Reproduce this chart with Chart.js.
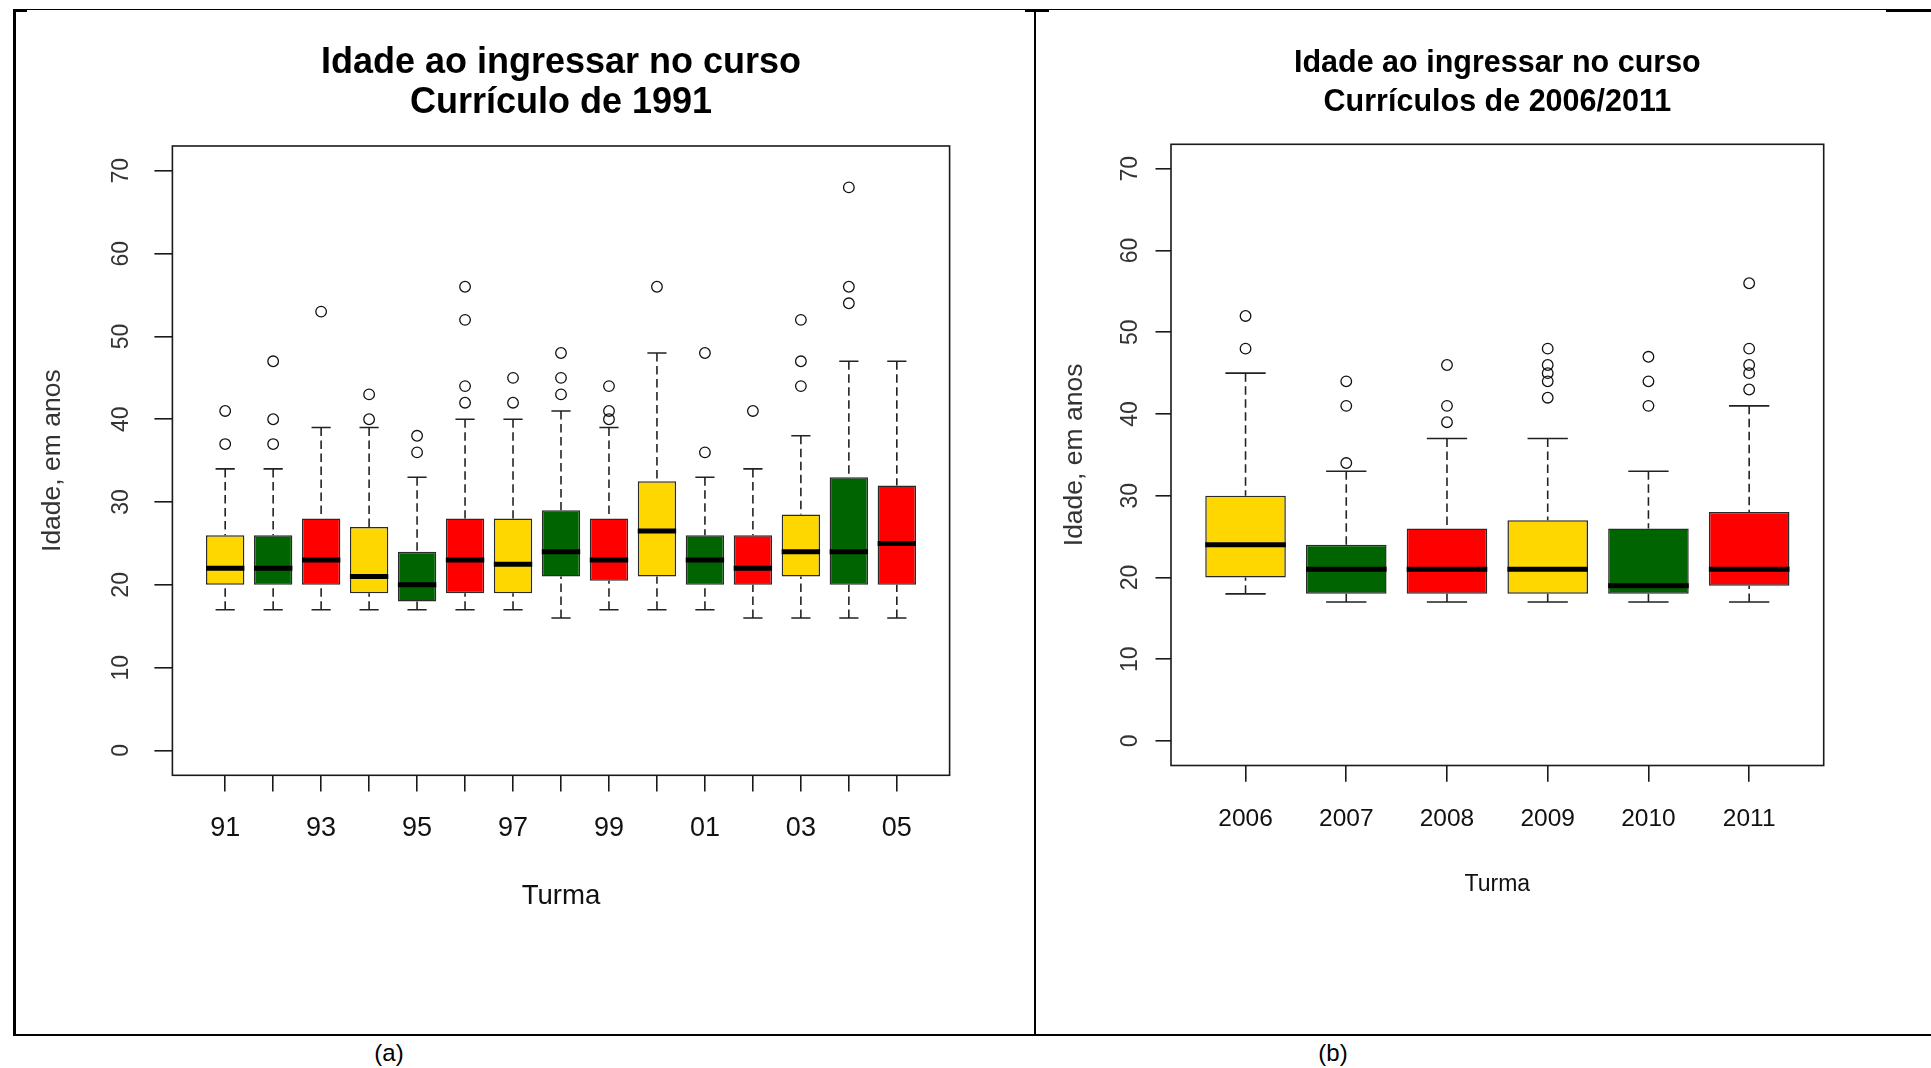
<!DOCTYPE html>
<html>
<head>
<meta charset="utf-8">
<script src="https://cdn.jsdelivr.net/npm/chart.js@4.4.1/dist/chart.umd.min.js"></script>
<style>
  html, body { margin: 0; padding: 0; background: #fff; }
  body { width: 1931px; height: 1068px; position: relative; overflow: hidden;
         font-family: "Liberation Sans", Arial, sans-serif; }
  canvas { position: absolute; top: 0; }
  #c1991 { left: 0; }
  #c2006 { left: 1036px; }
  .rule { position: absolute; background: #000; }
  .cap { position: absolute; top: 1041px; font-size: 24px; line-height: 24px; color: #000;
         transform: translateX(-50%); white-space: nowrap; }
</style>
</head>
<body>
<canvas id="c1991" width="1034" height="1035"></canvas>
<canvas id="c2006" width="895" height="1035"></canvas>

<!-- table frame around the two panels -->
<div class="rule" style="left:13px;top:9px;width:1918px;height:1px"></div>
<div class="rule" style="left:13px;top:9px;width:14px;height:2.5px"></div>
<div class="rule" style="left:1025px;top:9px;width:24px;height:2.5px"></div>
<div class="rule" style="left:1886px;top:9px;width:45px;height:2.5px"></div>
<div class="rule" style="left:13px;top:9px;width:2.5px;height:1027px"></div>
<div class="rule" style="left:1033.5px;top:9px;width:2.2px;height:1027px"></div>
<div class="rule" style="left:13px;top:1034px;width:1918px;height:2.2px"></div>
<div class="cap" style="left:389px">(a)</div>
<div class="cap" style="left:1333px">(b)</div>

<script>
const FONT = '"Liberation Sans", Arial, sans-serif';
const palette = ['#FFD700', '#006400', '#FF0000'];   // gold, darkgreen, red
const yTicks = [0, 10, 20, 30, 40, 50, 60, 70];

// Currículo de 1991: turmas 1991-2005
const turmas1991 = ['91','92','93','94','95','96','97','98','99','00','01','02','03','04','05'];
const lo1991  = [17, 17, 17, 17, 17, 17, 17, 16, 17, 17, 17, 16, 16, 16, 16];
const q1_1991 = [20, 20, 20, 19, 18, 19, 19, 21, 20.5, 21, 20, 20, 21, 20, 20];
const med1991 = [22, 22, 23, 21, 20, 23, 22.5, 24, 23, 26.5, 23, 22, 24, 24, 25];
const q3_1991 = [26, 26, 28, 27, 24, 28, 28, 29, 28, 32.5, 26, 26, 28.5, 33, 32];
const hi1991  = [34, 34, 39, 39, 33, 40, 40, 41, 39, 48, 33, 34, 38, 47, 47];
const out1991 = [[41, 37], [47, 40, 37], [53], [43, 40], [38, 36], [56, 52, 44, 42],
                 [45, 42], [48, 45, 43], [44, 41, 40], [56], [48, 36], [41],
                 [52, 47, 44], [68, 56, 54], []];

// Currículos de 2006/2011: turmas 2006-2011
const turmas2006 = ['2006', '2007', '2008', '2009', '2010', '2011'];
const lo2006  = [18, 17, 17, 17, 17, 17];
const q1_2006 = [20, 18, 18, 18, 18, 19];
const med2006 = [24, 21, 21, 21, 19, 21];
const q3_2006 = [30, 24, 26, 27, 26, 28];
const hi2006  = [45, 33, 37, 37, 33, 41];
const out2006 = [[52, 48], [44, 41, 34], [46, 41, 39], [48, 46, 45, 44, 42], [47, 44, 41],
                 [56, 48, 46, 45, 43]];

const HALF_BOX = 0.4;   // boxwex 0.8
const HALF_STAPLE = 0.2;

// plot frame (box around the plotting region)
const framePlugin = {
  id: 'frame',
  afterDatasetsDraw(chart) {
    const { ctx, chartArea: a } = chart;
    ctx.save();
    ctx.strokeStyle = '#1a1a1a';
    ctx.lineWidth = 1.6;
    ctx.strokeRect(a.left, a.top, a.right - a.left, a.bottom - a.top);
    ctx.restore();
  }
};

function boxplot(canvasId, s) {
  const pos = s.categories.map((_, i) => i + 1);
  const colors = pos.map((_, i) => palette[i % 3]);
  const whiskers = [], staples = [], medians = [], points = [];
  pos.forEach((x, i) => {
    whiskers.push({ x, y: s.hi[i] }, { x, y: s.q3[i] }, { x, y: null },
                  { x, y: s.lo[i] }, { x, y: s.q1[i] }, { x, y: null });
    staples.push({ x: x - HALF_STAPLE, y: s.hi[i] }, { x: x + HALF_STAPLE, y: s.hi[i] }, { x, y: null },
                 { x: x - HALF_STAPLE, y: s.lo[i] }, { x: x + HALF_STAPLE, y: s.lo[i] }, { x, y: null });
    medians.push({ x: x - HALF_BOX, y: s.med[i] }, { x: x + HALF_BOX, y: s.med[i] }, { x, y: null });
    s.out[i].forEach(v => points.push({ x, y: v }));
  });

  return new Chart(document.getElementById(canvasId), {
    type: 'bar',
    data: {
      datasets: [
        { type: 'line', data: whiskers, borderColor: '#222', borderWidth: 1.6,
          borderDash: [8.5, 4.5], pointRadius: 0, spanGaps: false, order: 4 },
        { type: 'line', data: staples, borderColor: '#222', borderWidth: 1.6,
          pointRadius: 0, spanGaps: false, order: 3 },
        { type: 'bar', data: pos.map((x, i) => ({ x, y: [s.q1[i], s.q3[i]] })),
          backgroundColor: colors, borderColor: '#2a2a2a', borderWidth: 1.5,
          borderSkipped: false, barPercentage: 0.8, categoryPercentage: 1, order: 2 },
        { type: 'line', data: medians, borderColor: '#000', borderWidth: 5,
          borderCapStyle: 'butt', pointRadius: 0, spanGaps: false, order: 1 },
        { type: 'scatter', data: points, pointStyle: 'circle', pointRadius: 5.3,
          pointBorderWidth: 1.3, pointBorderColor: '#111',
          pointBackgroundColor: 'rgba(0,0,0,0)', order: 0 }
      ]
    },
    options: {
      responsive: false,
      animation: false,
      events: [],
      layout: { autoPadding: false, padding: s.layoutPadding },
      plugins: {
        legend: { display: false },
        tooltip: { enabled: false },
        title: {
          display: true, fullSize: false, text: s.title, color: '#000',
          font: { family: FONT, size: s.titleSize, weight: 'bold', lineHeight: s.titleLineHeight },
          padding: s.titlePadding
        }
      },
      scales: {
        x: {
          type: 'linear', min: s.xMin, max: s.xMax, offset: false,
          afterBuildTicks: sc => { sc.ticks = pos.map(v => ({ value: v })); },
          afterFit: sc => { sc.height = s.xAxisHeight; },
          grid: { display: true, drawOnChartArea: false, drawTicks: true, offset: false,
                  tickLength: s.xTickLen, color: '#1a1a1a', lineWidth: 1.6 },
          border: { display: false },
          ticks: { autoSkip: false, minRotation: 0, maxRotation: 0, padding: s.xTickPad,
                   color: '#111', font: { family: FONT, size: s.xTickSize },
                   callback: v => s.tickLabels[v - 1] },
          title: { display: true, text: 'Turma', color: '#111',
                   font: { family: FONT, size: s.xTitleSize }, padding: { top: 0, bottom: 0 } }
        },
        y: {
          type: 'linear', min: -3, max: 73,
          afterBuildTicks: sc => { sc.ticks = yTicks.map(v => ({ value: v })); },
          afterFit: sc => { sc.width = s.yAxisWidth; },
          grid: { display: true, drawOnChartArea: false, drawTicks: true,
                  tickLength: s.yTickLen, color: '#1a1a1a', lineWidth: 1.6 },
          border: { display: false },
          ticks: { minRotation: 90, maxRotation: 90, crossAlign: 'center', padding: s.yTickPad,
                   color: '#333', font: { family: FONT, size: 23 },
                   callback: v => String(v) },
          title: { display: true, text: 'Idade, em anos', color: '#333',
                   font: { family: FONT, size: 26.5 }, padding: { top: s.yTitlePad, bottom: 0 } }
        }
      }
    },
    plugins: [framePlugin]
  });
}

boxplot('c1991', {
  categories: turmas1991,
  tickLabels: turmas1991.map((t, i) => (i % 2 === 0 ? t : '')),
  lo: lo1991, q1: q1_1991, med: med1991, q3: q3_1991, hi: hi1991, out: out1991,
  title: ['Idade ao ingressar no curso', 'Currículo de 1991'],
  titleSize: 36, titleLineHeight: 1.097, titlePadding: { top: 43.5, bottom: 23.5 },
  layoutPadding: { left: 0, right: 84.4, top: 0, bottom: 122.4 },
  xMin: -0.1, xMax: 16.1,
  xAxisHeight: 137.3, xTickLen: 16.3, xTickPad: 21.2, xTickSize: 27, xTitleSize: 27.6,
  yAxisWidth: 172.4, yTickLen: 18, yTickPad: 19.6, yTitlePad: 37
});

boxplot('c2006', {
  categories: turmas2006,
  tickLabels: turmas2006,
  lo: lo2006, q1: q1_2006, med: med2006, q3: q3_2006, hi: hi2006, out: out2006,
  title: ['Idade ao ingressar no curso', 'Currículos de 2006/2011'],
  titleSize: 30.5, titleLineHeight: 1.295, titlePadding: { top: 43.75, bottom: 21.55 },
  layoutPadding: { left: 0, right: 107.3, top: 0, bottom: 136.2 },
  xMin: 0.26, xMax: 6.74,
  xAxisHeight: 133.3, xTickLen: 16.3, xTickPad: 22.7, xTickSize: 24.5, xTitleSize: 23,
  yAxisWidth: 135, yTickLen: 15.5, yTickPad: 12.2, yTitlePad: 22.6
});
</script>
</body>
</html>
